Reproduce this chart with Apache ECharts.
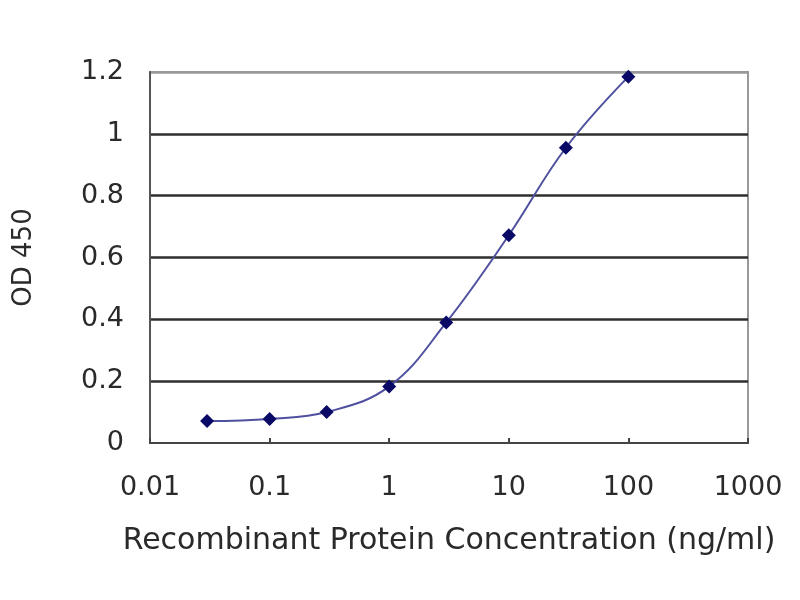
<!DOCTYPE html>
<html>
<head>
<meta charset="utf-8">
<script src="https://cdn.jsdelivr.net/npm/echarts@6/dist/echarts.min.js"></script>
<style>
html,body{margin:0;padding:0;background:#fff;}
#chart{width:800px;height:600px;}
</style>
</head>
<body>
<div id="chart"></div>
<script>
const concentrations = [0.03, 0.1, 0.3, 1, 3, 10, 30, 100];
const odValues = [0.071, 0.078, 0.100, 0.183, 0.390, 0.672, 0.955, 1.185];
const xTickLabels = ['0.01', '0.1', '1', '10', '100', '1000'];
const yTickLabels = ['0', '0.2', '0.4', '0.6', '0.8', '1', '1.2'];

const chart = echarts.init(document.getElementById('chart'));
const font = 'DejaVu Sans';
chart.setOption({
  backgroundColor: '#ffffff',
  animation: false,
  grid: {
    left: 150, right: 52, top: 72, bottom: 157,
    show: true, borderColor: '#999', borderWidth: 2, backgroundColor: '#fff'
  },
  xAxis: {
    type: 'log', logBase: 10, min: 0.01, max: 1000,
    name: 'Recombinant Protein Concentration (ng/ml)',
    nameLocation: 'middle', nameGap: 83,
    nameTextStyle: { fontFamily: font, fontSize: 30, color: '#2a2a2a' },
    axisLine: { lineStyle: { color: '#444', width: 2 } },
    axisTick: { show: true, inside: true, length: 5, lineStyle: { color: '#444', width: 2 } },
    axisLabel: {
      margin: 31, fontFamily: font, fontSize: 27, color: '#2a2a2a',
      formatter: function (v, i) { return xTickLabels[i] !== undefined ? xTickLabels[i] : ''; }
    },
    splitLine: { show: false }
  },
  yAxis: {
    type: 'value', min: 0, max: 1.2, interval: 0.2,
    name: 'OD 450', nameLocation: 'middle', nameGap: 113, nameRotate: 90,
    nameTextStyle: { fontFamily: font, fontSize: 26, color: '#2a2a2a' },
    axisLine: { show: true, lineStyle: { color: '#555', width: 2 } },
    axisTick: { show: false },
    axisLabel: {
      margin: 26, fontFamily: font, fontSize: 27, color: '#2a2a2a',
      formatter: function (v, i) { return yTickLabels[i] !== undefined ? yTickLabels[i] : ''; }
    },
    splitLine: { show: true, lineStyle: { color: ['rgba(0,0,0,0)', '#2e2e2e', '#2e2e2e', '#2e2e2e', '#2e2e2e', '#2e2e2e', '#999'], width: 2.5 } }
  },
  series: [{
    type: 'line',
    data: concentrations.map((c, i) => [c, odValues[i]]),
    smooth: 0.4,
    symbol: 'diamond',
    symbolSize: 14,
    itemStyle: { color: '#0a0a66' },
    lineStyle: { color: '#5050a0', width: 2 }
  }]
});
</script>
</body>
</html>
